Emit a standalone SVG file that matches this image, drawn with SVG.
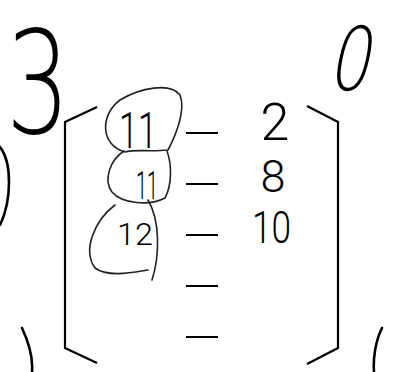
<svg xmlns="http://www.w3.org/2000/svg" width="395" height="372" viewBox="0 0 395 372">
<style>
.ink{fill:none;stroke:#000;stroke-width:2.6;stroke-linecap:round;stroke-linejoin:round}
.thin{fill:none;stroke:#000;stroke-width:2.2;stroke-linecap:butt}
.loop{fill:none;stroke:#222;stroke-width:1.6;stroke-linecap:round}
.num{font-family:Roboto,"Liberation Sans",sans-serif;font-weight:300;fill:#000}
.big{font-family:"DejaVu Sans ExtraLight","DejaVu Sans",sans-serif;font-weight:200;fill:#000}
</style>
<rect width="395" height="372" fill="#fff"/>
<g id="brackets">
<path class="thin" d="M97,107 L65,122 L65,348 L97,363"/>
<path class="thin" d="M307,106 L338,122 L338,348 L307,364"/>
</g>
<g id="dashes">
<path class="thin" d="M186,133 H218 M186,184 H218 M186,235 H218 M186,286 H218 M186,337 H218"/>
</g>
<g id="parens">
<path class="ink" d="M0,147 C12,162 12,200 0,225"/>
<path class="ink" d="M22,328 C30,345 33,360 32,372"/>
<path class="ink" d="M382,328 C375,342 373,360 374,372"/>
</g>
<g id="loops">
<path class="loop" d="M125,152 C100,145 100,115 120,100 C140,88 170,82 180,95 C186,110 176,135 168,150 C150,152 135,149 125,152 Z"/>
<path class="loop" d="M124,151 C110,160 103,180 112,192 C122,204 150,206 165,198 C172,185 172,165 167,151"/>
<path class="loop" d="M115,205 C95,220 82,250 95,268 C108,278 135,272 148,270"/>
<path class="loop" d="M148,200 C160,220 160,255 152,280"/>
</g>
<g id="labels">
<text class="big" x="6" y="133" font-size="142" textLength="64" lengthAdjust="spacingAndGlyphs">3</text>
<text class="big" x="346" y="90" font-size="88" textLength="42" lengthAdjust="spacingAndGlyphs" transform="skewX(-12)">0</text>
<text class="num" x="119" y="148" font-size="50" textLength="38" lengthAdjust="spacingAndGlyphs">11</text>
<text class="num" x="136" y="199" font-size="38" textLength="22" lengthAdjust="spacingAndGlyphs">11</text>
<text class="num" x="117" y="245" font-size="32" textLength="36" lengthAdjust="spacingAndGlyphs">12</text>
<text class="num" x="275" y="140" font-size="52" text-anchor="middle">2</text>
<text class="num" x="273" y="192" font-size="45" text-anchor="middle">8</text>
<text class="num" x="252" y="243" font-size="44" textLength="39" lengthAdjust="spacingAndGlyphs">10</text>
</g>
</svg>
